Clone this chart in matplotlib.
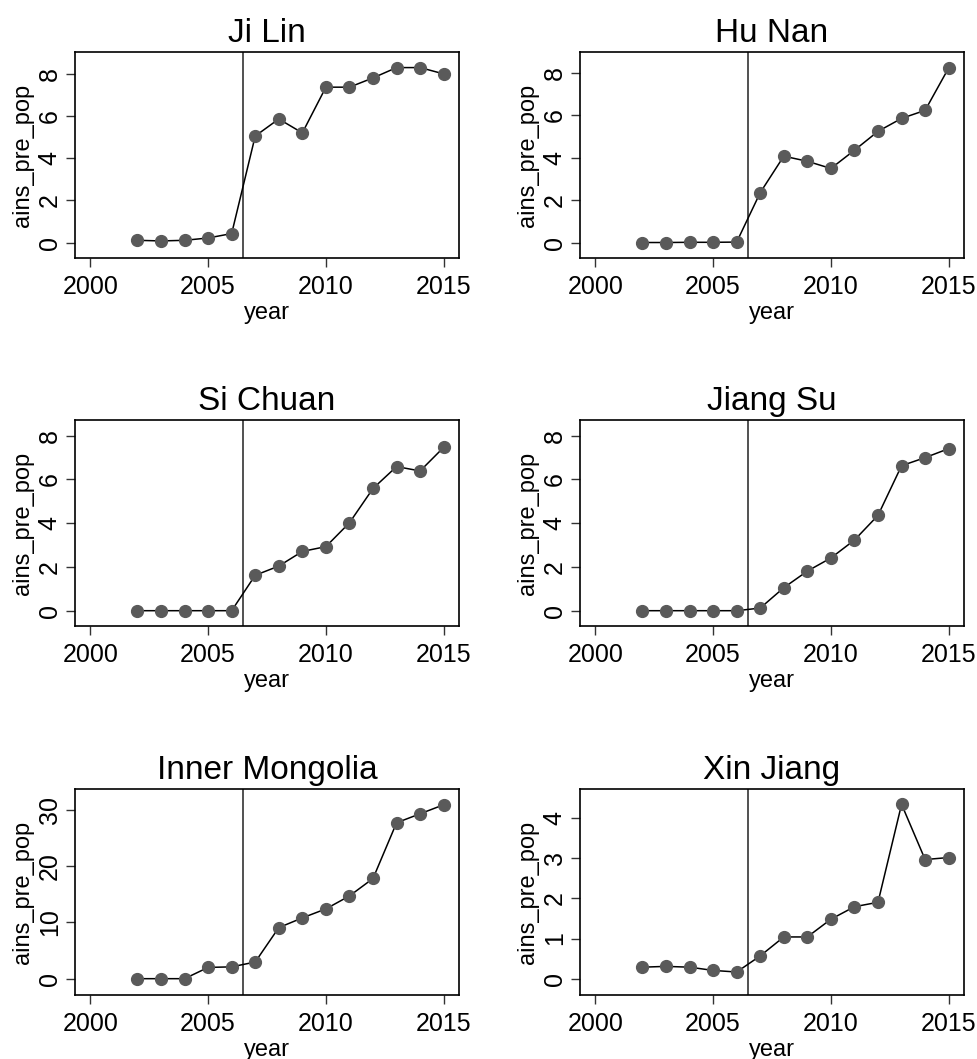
import numpy as np
import matplotlib
matplotlib.use('Agg')
import matplotlib.pyplot as plt

plt.rcParams['font.family'] = ['Liberation Sans', 'DejaVu Sans']

years = [2002, 2003, 2004, 2005, 2006, 2007, 2008, 2009, 2010, 2011, 2012, 2013, 2014, 2015]
provinces = ['Ji Lin', 'Hu Nan', 'Si Chuan', 'Jiang Su', 'Inner Mongolia', 'Xin Jiang']

ji_lin = [0.11, 0.08, 0.11, 0.22, 0.43, 5.06, 5.87, 5.21, 7.38, 7.38, 7.82, 8.31, 8.31, 8.01]
hu_nan = [0.0, 0.0, 0.01, 0.01, 0.02, 2.35, 4.07, 3.83, 3.49, 4.35, 5.24, 5.85, 6.23, 8.23]
si_chuan = [0.0, 0.0, 0.0, 0.0, 0.0, 1.62, 2.04, 2.71, 2.93, 4.02, 5.59, 6.59, 6.39, 7.47]
jiang_su = [0.0, 0.0, 0.0, 0.0, 0.0, 0.12, 1.05, 1.81, 2.41, 3.23, 4.36, 6.63, 7.0, 7.41]
inner_mongolia = [0.0, 0.0, 0.0, 2.0, 2.1, 2.96, 9.07, 10.8, 12.4, 14.7, 17.8, 27.7, 29.3, 30.9]
xin_jiang = [0.29, 0.31, 0.29, 0.21, 0.17, 0.57, 1.04, 1.04, 1.48, 1.79, 1.90, 4.33, 2.96, 3.01]

series = [ji_lin, hu_nan, si_chuan, jiang_su, inner_mongolia, xin_jiang]
policy_year = 2006.5
xticks = [2000, 2005, 2010, 2015]
yticks = [[0, 2, 4, 6, 8]] * 4 + [[0, 10, 20, 30], [0, 1, 2, 3, 4]]
ylims = [(-0.73, 9.05), (-0.73, 8.98), (-0.70, 8.72), (-0.70, 8.72), (-2.9, 33.7), (-0.40, 4.71)]

W, H = 978, 1059
fig = plt.figure(figsize=(W / 100, H / 100), dpi=100)

col_left = [75, 580]
row_top = [52, 420, 789]
ax_w, ax_h = 384, 206

for i, (name, vals) in enumerate(zip(provinces, series)):
    r, c = divmod(i, 2)
    ax = fig.add_axes([col_left[c] / W, 1 - (row_top[r] + ax_h) / H, ax_w / W, ax_h / H])
    ax.plot(years, vals, color='black', lw=1.1, zorder=2)
    ax.plot(years, vals, 'o', color='#5a5a5a', ms=8.5, zorder=3)
    ax.axvline(policy_year, color='#333333', lw=1.2, zorder=1)
    ax.set_xlim(1999.35, 2015.65)
    ax.set_ylim(*ylims[i])
    ax.set_xticks(xticks)
    ax.set_yticks(yticks[i])
    ax.set_yticklabels([str(t) for t in yticks[i]], rotation=90, va='center')
    ax.tick_params(direction='out', length=6.5, width=1, labelsize=18, color='#333333')
    ax.tick_params(axis='x', pad=6)
    ax.tick_params(axis='y', pad=3)
    for s in ax.spines.values():
        s.set_linewidth(1.2)
    ax.set_title(name, fontsize=24, pad=7)
    ax.set_xlabel('year', fontsize=17, labelpad=2)
    ax.set_ylabel('ains_pre_pop', fontsize=17, labelpad=3)

fig.savefig('out.png', dpi=100)
